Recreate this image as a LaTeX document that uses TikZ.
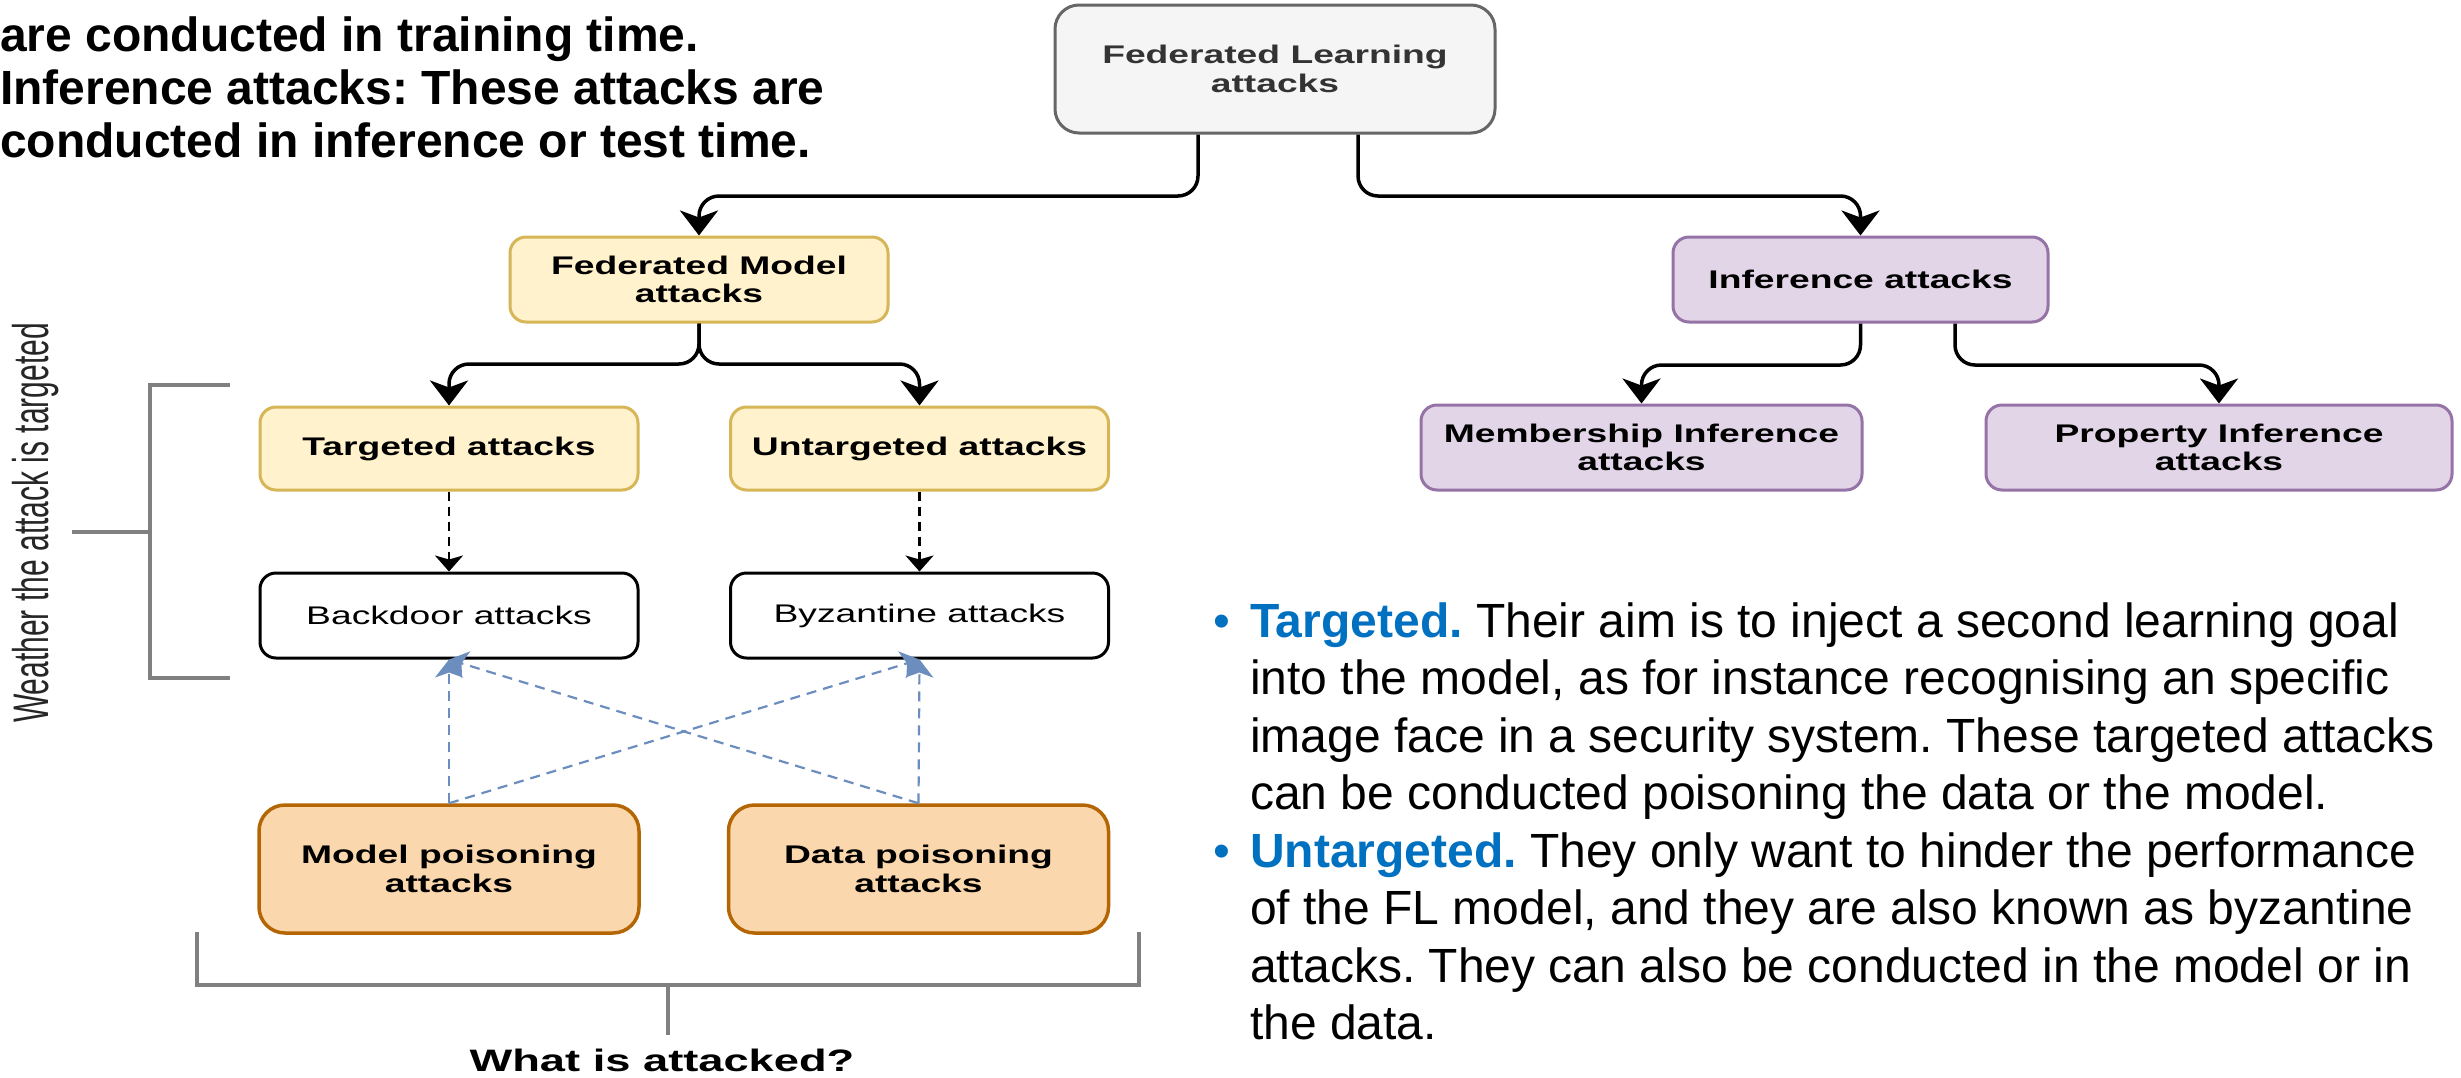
\documentclass[tikz,border=0pt]{standalone}
\usepackage{fontspec}
\setmainfont{Liberation Sans}
\newfontfamily\dio{Liberation Sans}[FakeStretch=1.46]
\newfontfamily\diorot{Liberation Sans}[FakeStretch=0.6]
\usetikzlibrary{arrows.meta,calc}
\definecolor{flfill}{HTML}{F5F5F5}
\definecolor{flline}{HTML}{666666}
\definecolor{fltext}{HTML}{333333}
\definecolor{yfill}{HTML}{FFF2CC}
\definecolor{yline}{HTML}{D6B656}
\definecolor{pfill}{HTML}{E1D5E7}
\definecolor{pline}{HTML}{9673A6}
\definecolor{ofill}{HTML}{FAD7AC}
\definecolor{oline}{HTML}{B46504}
\definecolor{bluel}{HTML}{6C8EBF}
\definecolor{brkc}{HTML}{808080}
\definecolor{tblue}{HTML}{0070C0}
\definecolor{rotc}{HTML}{262626}
\frenchspacing
\begin{document}
\begin{tikzpicture}[x=1pt,y=-1pt,
  box/.style={draw, line width=3pt, rounded corners=16pt, inner sep=0pt, align=center,
    font=\dio\bfseries\fontsize{25.5}{28.5}\selectfont},
  flbox/.style={box, fill=flfill, draw=flline, text=fltext, minimum width=440pt, minimum height=128pt, rounded corners=24pt},
  ybox/.style={box, fill=yfill, draw=yline, minimum width=378pt, minimum height=85pt},
  pbox/.style={box, fill=pfill, draw=pline, minimum height=85pt},
  wbox/.style={box, fill=white, draw=black, font=\dio\fontsize{25.5}{28.5}\selectfont, minimum width=378pt, minimum height=85pt},
  obox/.style={box, fill=ofill, draw=oline, line width=3.5pt, minimum width=380pt, minimum height=128pt, rounded corners=26pt},
  conn/.style={line width=3.5pt, rounded corners=20pt, -{Stealth[length=25pt,width=38pt,inset=7pt]}},
  dconn/.style={line width=2.5pt, dash pattern=on 9pt off 6pt, -{Stealth[length=16pt,width=28pt,inset=4pt]}},
  bconn/.style={draw=bluel, line width=2.2pt, dash pattern=on 10pt off 7pt, -{Stealth[length=18pt,width=28pt,inset=5pt]}},
  brk/.style={draw=brkc, line width=4pt},
  tl/.style={anchor=base west, inner sep=0pt, font=\bfseries\fontsize{48}{53}\selectfont},
  rt/.style={anchor=base west, inner sep=0pt, font=\fontsize{48}{57.5}\selectfont},
  bul/.style={anchor=base, inner sep=0pt, text=tblue, font=\fontsize{48}{57.5}\selectfont}
]
\useasboundingbox (0,0) rectangle (2461,1077);
\fill[white] (0,0) rectangle (2461,1077);

% top-left text
\node[tl] (t1) at (0,51) {are conducted in training time.};
\node[tl] (t2) at (0,104) {Inference attacks: These attacks are};
\node[tl] (t3) at (0,157) {conducted in inference or test time.};

% boxes
\node[flbox] (fl) at (1275,69) {Federated Learning\\attacks};
\node[ybox] (fm) at (699,279.5) {Federated Model\\attacks};
\node[pbox, minimum width=375pt] (inf) at (1860.5,279.5) {Inference attacks};
\node[ybox, minimum height=83pt] (tg) at (449,448.5) {Targeted attacks};
\node[ybox, minimum height=83pt] (ut) at (919.5,448.5) {Untargeted attacks};
\node[wbox] (bd) at (449,615.5) {Backdoor attacks};
\node[wbox] (bz) at (919.5,615.5) {Byzantine attacks};
\node[obox] (mp) at (449,869) {Model poisoning\\attacks};
\node[obox] (dp) at (918.5,869) {Data poisoning\\attacks};
\node[pbox, minimum width=441pt] (mem) at (1641.5,447.5) {Membership Inference\\attacks};
\node[pbox, minimum width=466pt] (prop) at (2219,447.5) {Property Inference\\attacks};

% connectors
\coordinate (flL) at ([xshift=-77pt]fl.south);
\coordinate (flR) at ([xshift=83pt]fl.south);
\coordinate (h1) at (0,196);
\draw[conn] (flL) -- (flL |- h1) -- (h1 -| fm.north) -- (fm.north);
\draw[conn] (flR) -- (flR |- h1) -- (h1 -| inf.north) -- (inf.north);
\coordinate (h2) at (0,364);
\draw[conn] (fm.south) -- (fm.south |- h2) -- (h2 -| tg.north) -- (tg.north);
\draw[conn] (fm.south) -- (fm.south |- h2) -- (h2 -| ut.north) -- (ut.north);
\coordinate (infR) at ([xshift=94.5pt]inf.south);
\coordinate (h3) at (0,365);
\draw[conn] (inf.south) -- (inf.south |- h3) -- (h3 -| mem.north) -- (mem.north);
\draw[conn] (infR) -- (infR |- h3) -- (h3 -| prop.north) -- (prop.north);

\draw[dconn] (tg.south) -- (bd.north);
\draw[dconn] (ut.south) -- (bz.north);

\draw[bconn] (mp.north) -- (bd.south);
\draw[bconn] (mp.north) -- (bz.south);
\draw[bconn] (dp.north) -- (bz.south);
\draw[bconn] (dp.north) -- (bd.south);

% brackets
\draw[brk] (230,385) -- (150,385) -- (150,678) -- (230,678);
\draw[brk] (72,532) -- (150,532);
\draw[brk] (197,932) -- (197,985) -- (1139,985) -- (1139,932);
\draw[brk] (668,985) -- (668,1035);

\node[rotate=90, inner sep=0pt, text=rotc, font=\diorot\fontsize{50}{54}\selectfont] (wt) at (36,523) {Weather the attack is targeted};
\node[anchor=base, inner sep=0pt, font=\dio\bfseries\fontsize{31}{34}\selectfont] (wa) at (662,1071) {What is attacked?};

% right text
\node[bul] (b1) at (1222,637) {•};
\node[rt] (r1) at (1250,637) {\textcolor{tblue}{\bfseries Targeted.} Their aim is to inject a second learning goal};
\node[rt] (r2) at (1250,694.5) {into the model, as for instance recognising an specific};
\node[rt] (r3) at (1250,752) {image face in a security system. These targeted attacks};
\node[rt] (r4) at (1250,809.5) {can be conducted poisoning the data or the model.};
\node[bul] (b2) at (1222,867) {•};
\node[rt] (r5) at (1250,867) {\textcolor{tblue}{\bfseries Untargeted.} They only want to hinder the performance};
\node[rt] (r6) at (1250,924.5) {of the FL model, and they are also known as byzantine};
\node[rt] (r7) at (1250,982) {attacks. They can also be conducted in the model or in};
\node[rt] (r8) at (1250,1039.5) {the data.};
\end{tikzpicture}
\end{document}
